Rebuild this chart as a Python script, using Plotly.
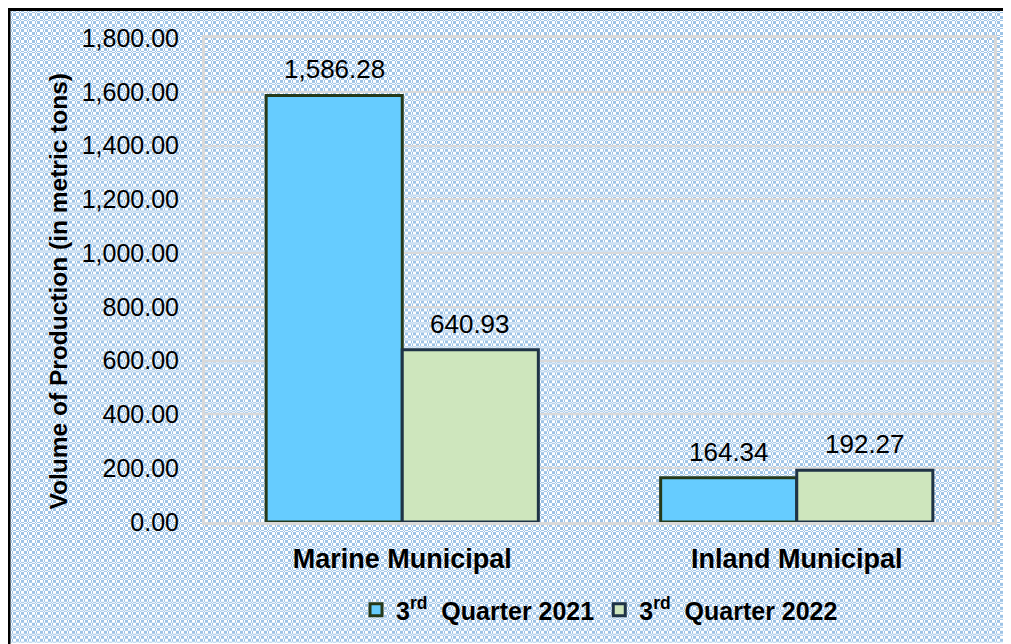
import base64
import plotly.graph_objects as go

categories = ["Marine Municipal", "Inland Municipal"]
series_names = ["3<sup>rd</sup>  Quarter 2021", "3<sup>rd</sup>  Quarter 2022"]
q3_2021 = [1586.28, 164.34]
q3_2022 = [640.93, 192.27]
y_ticks = [0, 200, 400, 600, 800, 1000, 1200, 1400, 1600, 1800]

# the page body has an 8px margin, so the figure is 8px smaller than the window
W, H = 1003, 636
L, R, T, B = 197, 17, 30, 121
PW, PH = W - L - R, H - T - B

def px_x(px):
    return (px - L) / PW

def px_y(py):
    return (H - B - py) / PH

# plaid / checkered background pattern
blue = "#9dc3e6"
prof = [1, 1, 1, 0, 1, 0, 0, 0]
rects = ['<rect width="8" height="8" fill="white"/>']
for r in range(8):
    for c in range(8):
        if prof[r] == prof[c]:
            rects.append(f'<rect x="{c}" y="{r}" width="1" height="1" fill="{blue}"/>')
tile = "".join(rects)
svg = (
    f'<svg xmlns="http://www.w3.org/2000/svg" width="{W}" height="{H}" viewBox="0 0 {W} {H}" shape-rendering="crispEdges">'
    f'<defs><pattern id="p" width="8" height="8" patternUnits="userSpaceOnUse">{tile}</pattern></defs>'
    f'<rect width="{W}" height="{H}" fill="url(#p)"/></svg>'
)
bg_src = "data:image/svg+xml;base64," + base64.b64encode(svg.encode()).decode()

FONT = "Liberation Sans, Arial"

fig = go.Figure()
fig.add_trace(go.Bar(
    x=categories, y=q3_2021, name=series_names[0],
    marker=dict(color="#66ccff", line=dict(color="#25391a", width=3)),
))
fig.add_trace(go.Bar(
    x=categories, y=q3_2022, name=series_names[1],
    marker=dict(color="#cee6bd", line=dict(color="#1f3346", width=3)),
))

annotations = []
for vals, shift in ((q3_2021, -68), (q3_2022, 68)):
    for cat, v in zip(categories, vals):
        annotations.append(dict(
            x=cat, y=v, xref="x", yref="y", text=f"{v:,.2f}", showarrow=False,
            xshift=shift, yshift=9, yanchor="bottom", xanchor="center",
            font=dict(size=26, color="black", family=FONT),
        ))
annotations.append(dict(
    text="<b>Volume of Production (in metric tons)</b>", xref="paper", yref="paper",
    x=px_x(50), y=px_y(284), textangle=-90, showarrow=False,
    font=dict(size=24.5, color="black", family=FONT),
    xanchor="center", yanchor="middle",
))

fig.update_layout(
    width=W, height=H,
    margin=dict(l=L, r=R, t=T, b=B),
    paper_bgcolor="white",
    plot_bgcolor="rgba(0,0,0,0)",
    barmode="group", bargap=0.31, bargroupgap=0,
    font=dict(family=FONT, size=20, color="black"),
    showlegend=True,
    legend=dict(
        orientation="h", x=0.5, xanchor="center", y=px_y(602), yanchor="middle",
        font=dict(size=25, color="black", family=FONT, weight="bold"),
        bgcolor="rgba(0,0,0,0)", itemwidth=30, tracegroupgap=0,
    ),
    images=[dict(
        source=bg_src, xref="paper", yref="paper",
        x=px_x(0), y=px_y(0), sizex=W / PW, sizey=H / PH,
        xanchor="left", yanchor="top", sizing="stretch", layer="below",
    )],
    shapes=[
        dict(type="line", xref="paper", yref="paper", x0=px_x(1), x1=px_x(1), y0=px_y(0), y1=px_y(H + 5),
             line=dict(color="black", width=3)),
        dict(type="line", xref="paper", yref="paper", x0=px_x(0), x1=px_x(W + 5), y0=px_y(1.5), y1=px_y(1.5),
             line=dict(color="black", width=3)),
    ],
    annotations=annotations,
)
fig.update_yaxes(
    range=[0, 1800], tickvals=y_ticks, tickformat=",.2f",
    showgrid=True, gridcolor="#d9d9d9", gridwidth=2,
    showline=True, linecolor="#d9d9d9", linewidth=3, mirror=True,
    zeroline=False, ticks="", ticklabelstandoff=18,
    tickfont=dict(size=25, color="black", family=FONT),
)
fig.update_xaxes(
    showline=True, linecolor="#d9d9d9", linewidth=3, mirror=True,
    ticks="", ticklabelstandoff=11,
    tickfont=dict(size=27, color="black", weight="bold", family=FONT),
)

fig.write_html("out.html")
